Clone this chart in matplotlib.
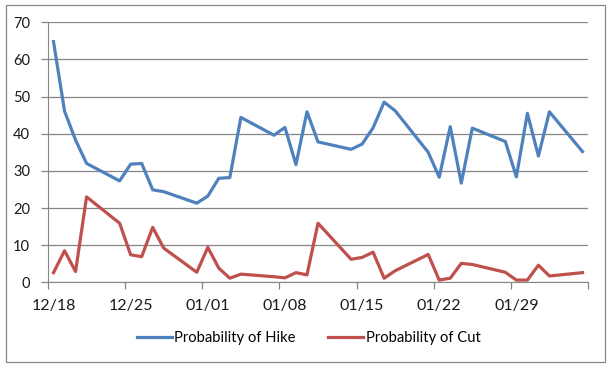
import pandas as pd
import matplotlib
matplotlib.use("Agg")
import matplotlib.pyplot as plt
from matplotlib.patches import Rectangle

# データ (営業日ごと)
dates = [
    "2012-12-18", "2012-12-19", "2012-12-20", "2012-12-21",
    "2012-12-24", "2012-12-25", "2012-12-26", "2012-12-27", "2012-12-28",
    "2012-12-31", "2013-01-01", "2013-01-02", "2013-01-03", "2013-01-04",
    "2013-01-07", "2013-01-08", "2013-01-09", "2013-01-10", "2013-01-11",
    "2013-01-14", "2013-01-15", "2013-01-16", "2013-01-17", "2013-01-18",
    "2013-01-21", "2013-01-22", "2013-01-23", "2013-01-24", "2013-01-25",
    "2013-01-28", "2013-01-29", "2013-01-30", "2013-01-31", "2013-02-01",
    "2013-02-04",
]
hike = [64.8, 46.1, 38.3, 32.0,
        27.3, 31.8, 32.0, 24.9, 24.4,
        21.3, 23.2, 28.0, 28.2, 44.4,
        39.6, 41.7, 31.7, 45.9, 37.8,
        35.8, 37.2, 41.6, 48.5, 46.2,
        35.0, 28.3, 41.9, 26.7, 41.5,
        37.9, 28.4, 45.5, 34.0, 45.9,
        35.2]
cut = [2.6, 8.5, 2.9, 23.0,
       15.9, 7.4, 6.9, 14.8, 9.2,
       2.7, 9.4, 3.8, 1.1, 2.2,
       1.5, 1.2, 2.6, 2.0, 15.9,
       6.2, 6.7, 8.1, 1.1, 3.1,
       7.5, 0.6, 1.1, 5.1, 4.8,
       2.7, 0.6, 0.6, 4.6, 1.7,
       2.6]
tick_dates = ["2012-12-18", "2012-12-25", "2013-01-01", "2013-01-08",
              "2013-01-15", "2013-01-22", "2013-01-29", "2013-02-05"]
tick_labels = ["12/18", "12/25", "01/01", "01/08", "01/15", "01/22", "01/29"]
series_names = ["Probability of Hike", "Probability of Cut"]

plt.rcParams['font.family'] = ['Lato', 'DejaVu Sans']

# Excelの日付軸: 点もラベルも日の中央に置かれる
half_day = pd.Timedelta(hours=12)
x = pd.to_datetime(dates) + half_day
ticks = pd.to_datetime(tick_dates)

fig = plt.figure(figsize=(6.11, 3.68), dpi=100)
ax = fig.add_axes([48 / 611, 1 - 282.3 / 368, 540 / 611, 260 / 368])

ax.plot(x, hike, color='#4F81BD', lw=2.3, label=series_names[0], solid_joinstyle='round')
ax.plot(x, cut, color='#C0504D', lw=2.3, label=series_names[1], solid_joinstyle='round')

ax.set_xlim(ticks[0], ticks[-1])
ax.set_ylim(0, 70)
ax.set_yticks(range(0, 71, 10))

# 目盛り線は日の境界、ラベルは日の中央
ax.set_xticks(ticks)
ax.set_xticklabels([])
ax.set_xticks(ticks[:-1] + half_day, minor=True)
ax.set_xticklabels(tick_labels, minor=True)

ax.grid(axis='y', color='#868686', lw=0.9)
ax.set_axisbelow(True)
for s in ['top', 'right']:
    ax.spines[s].set_visible(False)
ax.spines['left'].set_color('#868686')
ax.spines['bottom'].set_color('#868686')
ax.tick_params(axis='y', length=5, width=0.9, color='#868686', pad=8,
               labelsize=10.5, labelcolor='#1a1a1a')
ax.tick_params(axis='x', which='major', length=5, width=0.9, color='#868686',
               direction='out')
ax.tick_params(axis='x', which='minor', length=0, pad=12, labelsize=11.5,
               labelcolor='#1a1a1a')

fig.legend(loc='center', bbox_to_anchor=(0.505, 1 - 338 / 368), ncol=2, frameon=False,
           fontsize=10.6, handlelength=2.4, handletextpad=0.15, columnspacing=2.2)

# 外枠
fig.patches.append(Rectangle((6 / 611, 1 - 362 / 368), 599 / 611, 357 / 368,
                             transform=fig.transFigure, fill=False,
                             edgecolor='#868686', lw=0.9))

fig.savefig("out.png", dpi=100)
